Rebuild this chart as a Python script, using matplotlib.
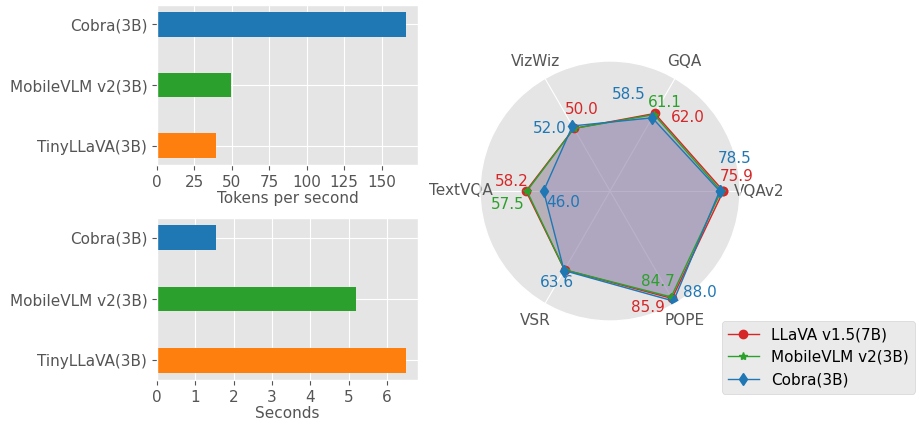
import numpy as np
import matplotlib
matplotlib.use("Agg")
import matplotlib.pyplot as plt

plt.style.use("ggplot")
plt.rcParams['font.family'] = ['DejaVu Sans']

# ---- bar data ----
models = ["TinyLLaVA(3B)", "MobileVLM v2(3B)", "Cobra(3B)"]
bar_colors = ["#ff7f0e", "#2ca02c", "#1f77b4"]
tokens_per_sec = [39.5, 49.5, 166.0]
seconds = [6.48, 5.18, 1.55]
tok_ticks = [0, 25, 50, 75, 100, 125, 150]
sec_ticks = [0, 1, 2, 3, 4, 5, 6]

# ---- radar data ----
benchmarks = ["VQAv2", "GQA", "VizWiz", "TextVQA", "VSR", "POPE"]
llava = [78.5, 62.0, 50.0, 58.2, 63.0, 85.9]
mobilevlm = [77.0, 61.1, 50.0, 57.5, 63.0, 84.7]
cobra = [75.9, 58.5, 52.0, 46.0, 63.6, 88.0]
series_names = ["LLaVA v1.5(7B)", "MobileVLM v2(3B)", "Cobra(3B)"]
series_colors = ["#d62728", "#2ca02c", "#1f77b4"]
fill_colors = ["#E24A33", "#348ABD", "#988ED5"]
series_markers = ["o", "*", "d"]

# value labels as drawn: (text, series index, angle deg, radius)
value_labels = [
    ("78.5", 2, 14.4, 89.3), ("75.9", 0, 6.7, 88.5),
    ("62.0", 0, 43.5, 74.4), ("61.1", 1, 58.3, 72.4), ("58.5", 2, 78.9, 68.4),
    ("50.0", 0, 108.9, 60.0), ("52.0", 2, 133.6, 60.2),
    ("58.2", 0, 174.2, 68.2), ("57.5", 1, 187.3, 71.2), ("46.0", 2, 194.3, 33.6),
    ("63.6", 2, 240.0, 73.5),
    ("84.7", 1, 298.0, 70.6), ("88.0", 2, 311.7, 93.7), ("85.9", 0, 288.0, 84.5),
]

W, H = 917, 424
fig = plt.figure(figsize=(W / 100, H / 100), dpi=100)

def px_axes(l, t, r, b):
    return [l / W, 1 - b / H, (r - l) / W, (b - t) / H]

FS = 11

ax1 = fig.add_axes(px_axes(157, 5, 418, 165))
y = np.arange(len(models))
ax1.barh(y, tokens_per_sec, height=0.4, color=bar_colors)
ax1.set_yticks(y)
ax1.set_yticklabels(models, fontsize=FS)
ax1.set_xticks(tok_ticks)
ax1.tick_params(axis='x', labelsize=FS)
ax1.set_xlabel("Tokens per second", fontsize=FS, labelpad=1)

ax2 = fig.add_axes(px_axes(157, 218, 418, 380))
ax2.barh(y, seconds, height=0.4, color=bar_colors)
ax2.set_yticks(y)
ax2.set_yticklabels(models, fontsize=FS)
ax2.set_xticks(sec_ticks)
ax2.tick_params(axis='x', labelsize=FS)
ax2.set_xlabel("Seconds", fontsize=FS, labelpad=1)

# ---- radar ----
cx, cy, R = 610, 191, 130
axr = fig.add_axes(px_axes(cx - R, cy - R, cx + R, cy + R), projection='polar')
angles = np.deg2rad(np.arange(len(benchmarks)) * 360.0 / len(benchmarks))
closed = np.concatenate([angles, angles[:1]])
for vals, name, col, fcol, mk in zip([llava, mobilevlm, cobra], series_names,
                                      series_colors, fill_colors, series_markers):
    v = np.concatenate([vals, vals[:1]])
    axr.plot(closed, v, color=col, marker=mk, linewidth=1, markersize=6, label=name)
    axr.fill(closed, v, color=fcol, alpha=0.25)
axr.set_ylim(0, 90)
axr.set_yticks([])
axr.set_xticks(angles)
axr.set_xticklabels(benchmarks, fontsize=FS, color="#555555")
axr.grid(True, color="white")
for txt, si, ang, rr in value_labels:
    axr.text(np.deg2rad(ang), rr, txt, color=series_colors[si], fontsize=FS,
             ha='center', va='center')

leg = fig.legend(*axr.get_legend_handles_labels(), loc='upper left',
                 bbox_to_anchor=(722 / W, 1 - 321 / H), borderaxespad=0,
                 fontsize=FS, frameon=True)

fig.savefig("out.png", dpi=100)
